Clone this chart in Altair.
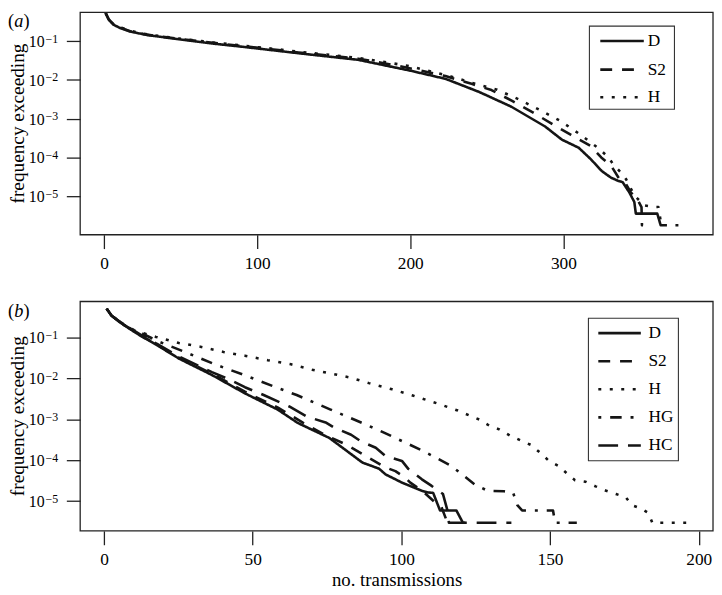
import altair as alt
import pandas as pd

FONT = "Liberation Serif"
INK = "#151515"

# ---------------- panel (a) : x = no. transmissions, f = frequency exceeding
a_D_x = [1, 3, 6, 10, 17, 28, 49, 71, 92, 114, 127, 166, 200, 223, 245, 266, 288, 299, 310, 318,
         325, 331, 335.5, 338.7, 343, 346.3, 347.3, 361.3, 363.5, 365.7]
a_D_f = [0.537, 0.363, 0.269, 0.224, 0.178, 0.145, 0.112, 0.0871, 0.0708, 0.0562, 0.049, 0.0331,
         0.0174, 0.0107, 0.0049, 0.00204, 6.31e-4, 2.88e-4, 1.78e-4, 8.91e-5, 4.47e-5, 3.02e-5,
         2.51e-5, 2.29e-5, 1.26e-5, 7.08e-6, 3.55e-6, 3.55e-6, 1.78e-6, 1.78e-6]

a_S2_x = [1, 3, 6, 10, 17, 28, 49, 71, 92, 114, 127, 166, 193, 223, 240, 253, 266.5, 280, 292, 305,
          318, 324.7, 331.2, 336.6, 340.9, 344, 348.5, 351, 351.3, 352]
a_S2_f = [0.537, 0.372, 0.275, 0.229, 0.182, 0.148, 0.115, 0.0912, 0.0741, 0.0589, 0.0513, 0.0355,
          0.0229, 0.0126, 0.00794, 0.0055, 0.00288, 0.00145, 7.59e-4, 3.8e-4, 1.95e-4, 1.0e-4,
          6.03e-5, 2.75e-5, 2.04e-5, 1.26e-5, 7.94e-6, 5.25e-6, 1.78e-6, 1.78e-6]

a_H_x = [1, 3, 6, 10, 17, 28, 49, 71, 92, 114, 127, 166, 198, 226.5, 242.7, 256.7, 270.8, 284.8,
         297.7, 309.6, 322.5, 329, 332.2, 337.6, 340.9, 346.3, 352.8, 359.2, 362, 364, 372.2, 380]
a_H_f = [0.537, 0.372, 0.282, 0.234, 0.186, 0.151, 0.117, 0.0933, 0.0759, 0.0617, 0.0537, 0.0372,
         0.0234, 0.0123, 0.00794, 0.00562, 0.00316, 0.00166, 8.91e-4, 4.27e-4, 1.78e-4, 1.05e-4,
         6.92e-5, 4.07e-5, 2.75e-5, 1.05e-5, 5.75e-6, 5.25e-6, 5.25e-6, 1.78e-6, 1.78e-6, 1.78e-6]

# ---------------- panel (b)
b_D_x = [0.9, 2.5, 5.3, 9.4, 12, 18, 25.2, 36.3, 47.4, 58.5, 65.1, 75.8, 86.9, 92.5, 94.7, 100.2,
         106.9, 109, 110.7, 113, 118.5, 120.7, 121.5]
b_D_f = [0.501, 0.339, 0.234, 0.148, 0.112, 0.0631, 0.0302, 0.012, 0.00427, 0.0017, 8.13e-4,
         3.47e-4, 8.71e-5, 6.17e-5, 4.47e-5, 2.82e-5, 1.78e-5, 1.62e-5, 1.58e-5, 5.89e-6, 5.89e-6,
         2.95e-6, 2.95e-6]

b_S2_x = [0.9, 2.5, 5.3, 9.4, 12, 18, 25.2, 36.3, 47.4, 58.5, 67, 74.2, 81.4, 88, 94.7, 98, 101.3,
          103, 107, 111.3, 113.5, 115.5, 117]
b_S2_f = [0.501, 0.339, 0.234, 0.151, 0.115, 0.0646, 0.0316, 0.0129, 0.00468, 0.00191, 8.13e-4,
          4.17e-4, 2.4e-4, 1.26e-4, 6.61e-5, 5.37e-5, 3.72e-5, 2.82e-5, 1.78e-5, 9.33e-6, 7.08e-6,
          2.95e-6, 2.95e-6]

b_H_x = [0.9, 2.5, 5.3, 8.6, 17.5, 25.2, 32.4, 40.2, 47.4, 55.1, 62.9, 70, 82.5, 89.1, 96.9, 104.1,
         111.9, 119, 126.2, 129.6, 132.9, 136.5, 140.1, 143.6, 146.7, 149.5, 152.8, 155.6, 158.4,
         162, 165.3, 168.9, 172.2, 175.5, 177.5, 180.5, 183, 184.4, 197]
b_H_f = [0.501, 0.339, 0.24, 0.158, 0.102, 0.0724, 0.0589, 0.0437, 0.0355, 0.0275, 0.0219, 0.0162,
         0.0105, 0.00759, 0.00537, 0.00372, 0.00245, 0.00162, 9.77e-4, 6.92e-4, 5.62e-4, 3.98e-4,
         3.02e-4, 2.34e-4, 1.51e-4, 9.77e-5, 7.24e-5, 4.79e-5, 3.24e-5, 2.95e-5, 2.29e-5, 1.78e-5,
         1.48e-5, 1.23e-5, 7.94e-6, 6.61e-6, 5.13e-6, 2.95e-6, 2.95e-6]

b_HG_x = [0.9, 2.5, 5.3, 9.4, 12, 18.6, 28.6, 38, 48.5, 58.5, 64.8, 76, 88, 93, 98, 107.4, 116.8,
          124.6, 129, 134.5, 137.6, 139, 140.6, 151, 151.7, 159]
b_HG_f = [0.501, 0.339, 0.24, 0.158, 0.132, 0.0776, 0.0398, 0.0209, 0.011, 0.00575, 0.00389,
          0.00174, 7.41e-4, 5.13e-4, 3.47e-4, 1.66e-4, 7.24e-5, 2.57e-5, 1.78e-5, 1.74e-5, 1.58e-5,
          7.94e-6, 5.89e-6, 5.89e-6, 2.95e-6, 2.95e-6]

b_HC_x = [0.9, 2.5, 5.3, 9.4, 12, 18, 25.2, 36.3, 42.4, 47.4, 53.7, 62.3, 68.1, 74.8, 77.5, 83.1,
          86.4, 91.4, 94.7, 100.2, 102.4, 106.9, 110.2, 114, 115.5, 116, 137]
b_HC_f = [0.501, 0.339, 0.24, 0.155, 0.12, 0.0676, 0.0339, 0.0141, 0.00912, 0.00603, 0.00389,
          0.00204, 0.00117, 8.13e-4, 6.17e-4, 4.17e-4, 2.88e-4, 2.0e-4, 1.26e-4, 9.55e-5, 6.03e-5,
          3.39e-5, 2.34e-5, 1.48e-5, 5.89e-6, 2.95e-6, 2.95e-6]

xticks_a = [0, 100, 200, 300]
xticks_b = [0, 50, 100, 150, 200]
ytick_vals = [1e-1, 1e-2, 1e-3, 1e-4, 1e-5]
ytick_exp = ["\u22121", "\u22122", "\u22123", "\u22124", "\u22125"]

DASH = {"D": [1, 0], "S2": [12, 10], "H": [3, 8.6], "HG": [3, 9, 11.6, 9], "HC": [20, 10]}
LW = 2.6

# layout (pixels inside the single view)
W = 640
H = 524.5
A_Y0, A_Y1 = 0, 225          # panel (a) plot band
B_Y0, B_Y1 = 292.5, 524.5    # panel (b) plot band

one = pd.DataFrame({"k": [0]})
axis_kw = dict(tickSize=14, domain=False, grid=False, tickColor="#222", tickWidth=1.3,
               labelColor="black", labelFont=FONT, titleFont=FONT, titleColor="black")


def panel_layers(series, xdom, xticks, ydom, y0, y1, letter, box, rows_y, line_x, label_x,
                 xtitle, xoffset):
    xs = alt.Scale(domain=xdom, range=[0, W], nice=False, zero=False)
    ys = alt.Scale(type="log", domain=ydom, range=[y1, y0], nice=False)
    if xtitle:
        xaxis = alt.Axis(orient="bottom", offset=xoffset, values=xticks, labelPadding=6,
                         labelFontSize=17.5, format="d", title=xtitle, titleFontSize=19,
                         titlePadding=3, titleFontWeight="normal", **axis_kw)
    else:
        xaxis = alt.Axis(orient="bottom", offset=xoffset, values=xticks, labelPadding=6,
                         labelFontSize=17.5, format="d", title=None, **axis_kw)
    yaxis = alt.Axis(orient="left", values=ytick_vals, labels=False, title=None, **axis_kw)
    layers = []
    for i, (name, xl, fl) in enumerate(series):
        d = pd.DataFrame({"x": xl, "f": fl})
        layers.append(alt.Chart(d).mark_line(strokeWidth=LW, color=INK, strokeCap="butt",
                                             strokeJoin="round", strokeDash=DASH[name]).encode(
            x=alt.X("x:Q", scale=xs, axis=xaxis if i == 0 else None),
            y=alt.Y("f:Q", scale=ys, axis=yaxis if i == 0 else None)))
    # frame
    layers.append(alt.Chart(one).mark_rect(fill="white", fillOpacity=0, stroke="#222",
                                           strokeWidth=1.3).encode(
        x=alt.value(0), x2=alt.value(W), y=alt.value(y0), y2=alt.value(y1)))
    ylab = pd.DataFrame({"v": ytick_vals, "e": ytick_exp})
    layers.append(alt.Chart(ylab).mark_text(text="10", align="right", baseline="alphabetic",
                                            font=FONT, fontSize=16, dy=6, color="black").encode(
        x=alt.value(-36), y=alt.Y("v:Q", scale=ys, axis=None)))
    layers.append(alt.Chart(ylab).mark_text(align="left", baseline="alphabetic", font=FONT,
                                            fontSize=12, dy=1.5, color="black").encode(
        x=alt.value(-35), y=alt.Y("v:Q", scale=ys, axis=None), text="e:N"))
    layers.append(alt.Chart(one).mark_text(text="frequency exceeding", angle=270, align="center",
                                           baseline="middle", font=FONT, fontSize=19.5,
                                           color="black").encode(
        x=alt.value(-63), y=alt.value((y0 + y1) / 2)))
    ly = y0 + 0.4
    layers.append(alt.Chart(one).mark_text(text="(", align="left", baseline="top", font=FONT,
                                           fontSize=18.5, color="black").encode(
        x=alt.value(-73), y=alt.value(ly)))
    layers.append(alt.Chart(one).mark_text(text=letter, align="left", baseline="top", font=FONT,
                                           fontSize=18.5, fontStyle="italic",
                                           color="black").encode(
        x=alt.value(-66.6), y=alt.value(ly)))
    layers.append(alt.Chart(one).mark_text(text=")", align="left", baseline="top", font=FONT,
                                           fontSize=18.5, color="black").encode(
        x=alt.value(-57.2), y=alt.value(ly)))
    bx0, bx1, by0, by1 = box
    layers.append(alt.Chart(one).mark_rect(fill="white", stroke="#333", strokeWidth=1.1).encode(
        x=alt.value(bx0), x2=alt.value(bx1), y=alt.value(y0 + by0), y2=alt.value(y0 + by1)))
    for (name, _, _), yy in zip(series, rows_y):
        layers.append(alt.Chart(one).mark_rule(strokeWidth=LW, color=INK, strokeDash=DASH[name],
                                               strokeCap="butt").encode(
            x=alt.value(line_x[0]), x2=alt.value(line_x[1]), y=alt.value(y0 + yy)))
        layers.append(alt.Chart(one).mark_text(text=name, align="left", baseline="middle",
                                               font=FONT, fontSize=17.5, color="black").encode(
            x=alt.value(label_x), y=alt.value(y0 + yy)))
    return layers


series_a = [("D", a_D_x, a_D_f), ("S2", a_S2_x, a_S2_f), ("H", a_H_x, a_H_f)]
series_b = [("D", b_D_x, b_D_f), ("S2", b_S2_x, b_S2_f), ("H", b_H_x, b_H_f),
            ("HG", b_HG_x, b_HG_f), ("HC", b_HC_x, b_HC_f)]

layers_a = panel_layers(series_a, [-15.6, 397.7], xticks_a, [10 ** -5.996, 10 ** -0.252],
                        A_Y0, A_Y1, "a", (515, 601, 14, 98), [29, 58, 86], (526, 570), 574,
                        None, -(H - A_Y1))
layers_b = panel_layers(series_b, [-8.0, 204.8], xticks_b, [10 ** -5.729, 10 ** -0.126],
                        B_Y0, B_Y1, "b", (514, 605, 17, 161), [32, 60.4, 88.8, 117.2, 145.6],
                        (524, 567), 574.7, "no. transmissions", 0)

chart = alt.layer(*(layers_a + layers_b)).resolve_scale(
    x="independent", y="independent"
).resolve_axis(
    x="independent", y="independent"
).properties(
    width=W, height=H, padding=0, background="white"
).configure_view(stroke=None)

chart.save("out.html", embed_options={"renderer": "svg", "actions": False})
